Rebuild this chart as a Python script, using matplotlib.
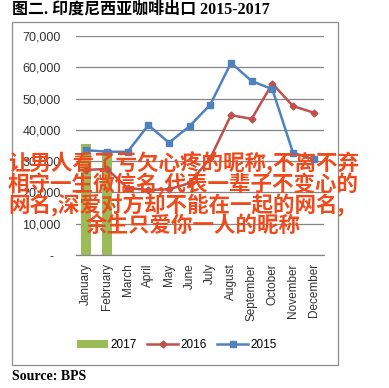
import matplotlib.pyplot as plt
from matplotlib.patches import Rectangle, Patch
from matplotlib.lines import Line2D
from matplotlib.ticker import FuncFormatter

months = ["January", "February", "March", "April", "May", "June", "July",
          "August", "September", "October", "November", "December"]
exp_2015 = [33500, 33000, 33000, 41500, 35900, 41200, 48100, 61400, 55600, 53000, 32700, 30600]
exp_2016 = [27200, 27500, 21400, 20800, 21000, 23000, 31000, 44700, 43500, 54800, 47600, 45500]
exp_2017 = [35500, 33700]
yticks = [0, 10000, 20000, 30000, 40000, 50000, 60000, 70000]

title = "图二. 印度尼西亚咖啡出口 2015-2017"
source = "Source: BPS"
overlay = ["让男人看了亏欠心疼的昵称,不离不弃",
           "相守一生微信名,代表一辈子不变心的",
           "网名,深爱对方却不能在一起的网名,",
           "余生只爱你一人的昵称"]

blue = "#4F81BD"
red = "#C0504D"
green = "#9BBB59"
grid_c = "#868686"

W, H = 389, 388
fig = plt.figure(figsize=(W / 100, H / 100), dpi=100)

# chart border
fig.patches.append(Rectangle((12 / W, 1 - 365 / H), 326 / W, 343 / H,
                             transform=fig.transFigure, fill=False,
                             edgecolor="#8C8C8C", linewidth=0.9))

ax = fig.add_axes([76 / W, 1 - 255 / H, 248 / W, 219 / H])
x = list(range(len(months)))
ax.bar(x[:len(exp_2017)], exp_2017, width=0.5, color=green, zorder=2)
ax.plot(x, exp_2016, color=red, linewidth=1.8, marker="D", markersize=3.5, zorder=3)
ax.plot(x, exp_2015, color=blue, linewidth=1.8, marker="s", markersize=5, zorder=4)

ax.set_xlim(-0.5, 11.5)
ax.set_ylim(0, 70000)
ax.set_yticks(yticks)
ax.yaxis.set_major_formatter(FuncFormatter(lambda v, p: "-  " if v == 0 else f"{int(v):,}"))
ax.yaxis.grid(True, color=grid_c, linewidth=0.9)
ax.set_axisbelow(True)
ax.set_xticks(x)
ax.set_xticklabels(months, rotation=90, fontfamily="Liberation Sans", fontsize=8.5, color="#333333")
for lbl in ax.get_yticklabels():
    lbl.set_fontfamily("Liberation Sans")
    lbl.set_fontsize(9)
    lbl.set_color("#333333")
ax.tick_params(axis="both", length=0)
ax.tick_params(axis="y", pad=11)
ax.tick_params(axis="x", pad=6)
for s in ["top", "right", "left"]:
    ax.spines[s].set_visible(False)
ax.spines["bottom"].set_color(grid_c)
ax.spines["bottom"].set_linewidth(0.9)

handles = [Patch(facecolor=green, edgecolor="none"),
           Line2D([], [], color=red, linewidth=1.8, marker="D", markersize=3.5),
           Line2D([], [], color=blue, linewidth=1.8, marker="s", markersize=5)]
fig.legend(handles, ["2017", "2016", "2015"], loc="center",
           bbox_to_anchor=(177 / W, 1 - 345 / H), ncol=3, frameon=False,
           prop={"family": "Liberation Sans", "size": 8.5},
           handlelength=2.6, handletextpad=0.2, columnspacing=0.9)

fig.text(12 / W, 1 - 10 / H, title, ha="left", va="center", fontsize=11.5,
         fontweight="bold", family=["Liberation Serif", "Noto Sans CJK SC"])
fig.text(12 / W, 1 - 377 / H, source, ha="left", va="center", fontsize=10,
         fontweight="bold", family="Liberation Serif")

ov_pos = [(8, 163), (8, 184), (8, 205), (86, 225)]
for (px, py), line in zip(ov_pos, overlay):
    fig.text(px / W, 1 - py / H, line, ha="left", va="center", fontsize=15.5,
             fontweight="bold", color="#EE4A1B",
             family=["Noto Sans CJK SC", "DejaVu Sans"], zorder=10)

fig.savefig("out.png", dpi=100)
